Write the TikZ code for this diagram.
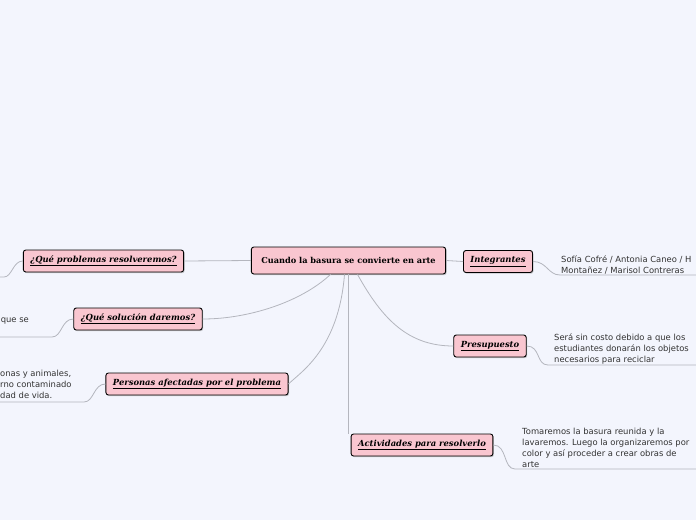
\documentclass[tikz,border=0pt]{standalone}
\usepackage{fontspec}
\setmainfont{DejaVu Serif}
\newfontfamily\leaffont{DejaVu Sans}
\usetikzlibrary{shadows}

\definecolor{bgblue}{HTML}{F3F5FD}
\definecolor{nodepink}{HTML}{F9C6D0}
\definecolor{linkgray}{HTML}{B4B6BE}
\definecolor{leafgray}{HTML}{333333}

\begin{document}
\begin{tikzpicture}[x=1pt,y=-1pt,
  topic/.style={draw=black, line width=.9pt, rounded corners=2.5pt, fill=nodepink,
    drop shadow={shadow xshift=1pt,shadow yshift=-1.2pt,opacity=.4},
    font=\bfseries\itshape\fontsize{8.4}{10}\selectfont, minimum height=22pt, inner xsep=7pt},
  central/.style={topic, font=\bfseries\fontsize{8.2}{10}\selectfont, minimum height=27pt, inner xsep=10pt},
  leaf/.style={font=\leaffont\fontsize{8.4}{11}\selectfont, text=leafgray, align=left, inner sep=1pt},
  link/.style={draw=linkgray, line width=.8pt}]
  % canvas
  \fill[bgblue] (0,0) rectangle (696,520);
  \clip (0,0) rectangle (696,520);

  % main topic and branches
  \node[central] (cen) at (348.5,260.5) {Cuando la basura se convierte en arte};
  \node[topic] (int) at (498,261.5) {\underline{Integrantes}};
  \node[topic] (prob) at (103.5,261) {\underline{¿Qué problemas resolveremos?}};
  \node[topic] (sol) at (138,319) {\underline{¿Qué solución daremos?}};
  \node[topic] (pers) at (197,384) {\underline{Personas afectadas por el problema}};
  \node[topic] (pres) at (490,346) {\underline{Presupuesto}};
  \node[topic] (act) at (422,445) {\underline{Actividades para resolverlo}};

  % leaves
  \node[leaf, anchor=south west] (intleaf) at (560,275)
    {Sofía Cofré / Antonia Caneo / H\\Montañez / Marisol Contreras};
  \node[leaf, anchor=south west] (presleaf) at (553,365)
    {Será sin costo debido a que los\\estudiantes donarán los objetos\\necesarios para reciclar};
  \node[leaf, anchor=south west] (actleaf) at (521,469)
    {Tomaremos la basura reunida y la\\lavaremos. Luego la organizaremos por\\color y así proceder a crear obras de\\arte};
  \node[leaf, anchor=base east] (solleaf) at (30,322) {que se};
  \node[leaf, anchor=south west] (persleaf) at (-1,400)
    {onas y animales,\\rno contaminado\\dad de vida.};
  \coordinate (probend) at (4,277);
  \coordinate (solend) at (52,337);
  \coordinate (persend) at (84,402);

  % links from the main topic
  \draw[link] (cen.west) -- (prob.east);
  \draw[link] (cen.east) -- (int.west);
  \draw[link] ([xshift=-18pt]cen.south) .. controls +(-30,28) and +(45,0) .. (sol.east);
  \draw[link] ([xshift=-4pt]cen.south) .. controls +(-6,75) and +(12,-12) .. (pers.east);
  \draw[link] ([xshift=9pt]cen.south) .. controls +(25,45) and +(-45,0) .. (pres.west);
  \draw[link] (cen.south) -- (cen.south |- act.north);

  % links to the leaves
  \draw[link] (int.east) .. controls +(14,0) and +(-12,0) .. (intleaf.south west) -- ++(150,0);
  \draw[link] (pres.east) .. controls +(14,0) and +(-12,0) .. ([xshift=-5pt]presleaf.south west) -- ++(150,0);
  \draw[link] (act.east) .. controls +(14,0) and +(-12,0) .. ([xshift=-6pt]actleaf.south west) -- ++(190,0);
  \draw[link] (prob.west) .. controls +(-10,0) and +(8,0) .. (probend) -- ++(-20,0);
  \draw[link] (sol.west) .. controls +(-12,0) and +(10,0) .. (solend) -- ++(-60,0);
  \draw[link] (pers.west) .. controls +(-12,0) and +(10,0) .. (persend) -- ++(-90,0);
\end{tikzpicture}
\end{document}
